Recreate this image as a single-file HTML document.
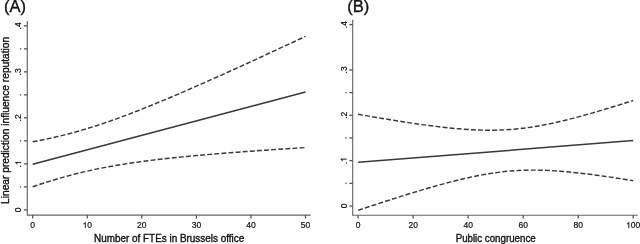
<!DOCTYPE html><html><head><meta charset="utf-8"><style>html,body{margin:0;padding:0;background:#fff;width:640px;height:244px;overflow:hidden}svg{display:block;will-change:transform}text{font-family:"Liberation Sans",sans-serif;fill:#111;stroke:#111;stroke-width:0.35px}.l{stroke-width:0.2px}.d{stroke:none;fill:#555}</style></head><body>
<svg width="640" height="244" viewBox="0 0 640 244">
<rect width="640" height="244" fill="#fff"/>
<text x="4.1" y="12" font-size="16.5">(A)</text>
<path d="M27.3 21.0V215.1H310.7" fill="none" stroke="#666" stroke-width="1.15"/>
<path d="M23.900000000000002 209.85H27.3" stroke="#555" stroke-width="1.3"/>
<g transform="translate(21.10 209.85) rotate(-90)"><text x="-2.364" y="0" font-size="8.5" class="l">0</text></g>
<path d="M23.900000000000002 186.85H27.3" stroke="#555" stroke-width="1.3"/>
<circle cx="20.55" cy="186.85" r="0.85" fill="#6a6a6a"/>
<path d="M23.900000000000002 163.85H27.3" stroke="#555" stroke-width="1.3"/>
<g transform="translate(21.10 163.85) rotate(-90)"><text x="-3.544" y="0" font-size="8.5" class="l">.</text><path transform="translate(-1.183 0) scale(0.004150 -0.004150)" d="M756 0L578 0L578 1100C535 1060 478 1018 407 975C336 932 272 900 215 878L215 1048C313 1094 398 1150 471 1216C544 1282 596 1346 627 1409L756 1409Z" fill="#111" stroke="#111" stroke-width="0.2" vector-effect="non-scaling-stroke"/></g>
<path d="M23.900000000000002 140.85H27.3" stroke="#555" stroke-width="1.3"/>
<circle cx="20.55" cy="140.85" r="0.85" fill="#6a6a6a"/>
<path d="M23.900000000000002 117.85H27.3" stroke="#555" stroke-width="1.3"/>
<g transform="translate(21.10 117.85) rotate(-90)"><text x="-3.544" y="0" font-size="8.5" class="l">.2</text></g>
<path d="M23.900000000000002 94.85H27.3" stroke="#555" stroke-width="1.3"/>
<circle cx="20.55" cy="94.85" r="0.85" fill="#6a6a6a"/>
<path d="M23.900000000000002 71.85H27.3" stroke="#555" stroke-width="1.3"/>
<g transform="translate(21.10 71.85) rotate(-90)"><text x="-3.544" y="0" font-size="8.5" class="l">.3</text></g>
<path d="M23.900000000000002 48.85H27.3" stroke="#555" stroke-width="1.3"/>
<circle cx="20.55" cy="48.85" r="0.85" fill="#6a6a6a"/>
<path d="M23.900000000000002 25.85H27.3" stroke="#555" stroke-width="1.3"/>
<g transform="translate(21.10 25.85) rotate(-90)"><text x="-3.544" y="0" font-size="8.5" class="l">.4</text></g>
<path d="M32.70 215.1V218.5" stroke="#555" stroke-width="1.3"/>
<g transform="translate(32.70 228)"><text x="-2.364" y="0" font-size="8.5" class="l">0</text></g>
<path d="M87.26 215.1V218.5" stroke="#555" stroke-width="1.3"/>
<g transform="translate(87.26 228)"><path transform="translate(-4.727 0) scale(0.004150 -0.004150)" d="M756 0L578 0L578 1100C535 1060 478 1018 407 975C336 932 272 900 215 878L215 1048C313 1094 398 1150 471 1216C544 1282 596 1346 627 1409L756 1409Z" fill="#111" stroke="#111" stroke-width="0.2" vector-effect="non-scaling-stroke"/><text x="0.000" y="0" font-size="8.5" class="l">0</text></g>
<path d="M141.82 215.1V218.5" stroke="#555" stroke-width="1.3"/>
<g transform="translate(141.82 228)"><text x="-4.727" y="0" font-size="8.5" class="l">20</text></g>
<path d="M196.38 215.1V218.5" stroke="#555" stroke-width="1.3"/>
<g transform="translate(196.38 228)"><text x="-4.727" y="0" font-size="8.5" class="l">30</text></g>
<path d="M250.94 215.1V218.5" stroke="#555" stroke-width="1.3"/>
<g transform="translate(250.94 228)"><text x="-4.727" y="0" font-size="8.5" class="l">40</text></g>
<path d="M305.50 215.1V218.5" stroke="#555" stroke-width="1.3"/>
<g transform="translate(305.50 228)"><text x="-4.727" y="0" font-size="8.5" class="l">50</text></g>
<text transform="translate(169.10 241.8) scale(0.992 1)" text-anchor="middle" font-size="10">Number of FTEs in Brussels office</text>
<polyline points="32.70,164.29 305.50,91.97" fill="none" stroke="#383838" stroke-width="1.45"/>
<polyline points="32.70,141.80 37.25,140.93 41.79,140.03 46.34,139.09 50.89,138.10 55.43,137.07 59.98,135.99 64.53,134.86 69.07,133.69 73.62,132.47 78.17,131.21 82.71,129.90 87.26,128.54 91.81,127.13 96.35,125.69 100.90,124.20 105.45,122.67 109.99,121.10 114.54,119.49 119.09,117.85 123.63,116.17 128.18,114.47 132.73,112.73 137.27,110.97 141.82,109.18 146.37,107.37 150.91,105.53 155.46,103.67 160.01,101.79 164.55,99.90 169.10,97.99 173.65,96.06 178.19,94.12 182.74,92.16 187.29,90.19 191.83,88.21 196.38,86.21 200.93,84.21 205.47,82.20 210.02,80.18 214.57,78.15 219.11,76.11 223.66,74.06 228.21,72.01 232.75,69.95 237.30,67.88 241.85,65.81 246.39,63.73 250.94,61.65 255.49,59.56 260.03,57.47 264.58,55.38 269.13,53.28 273.67,51.17 278.22,49.07 282.77,46.96 287.31,44.84 291.86,42.72 296.41,40.60 300.95,38.48 305.50,36.36" fill="none" stroke="#383838" stroke-width="1.45" stroke-dasharray="4.9 2.22"/>
<polyline points="32.70,186.79 37.25,185.24 41.79,183.73 46.34,182.27 50.89,180.84 55.43,179.47 59.98,178.13 64.53,176.85 69.07,175.61 73.62,174.42 78.17,173.27 82.71,172.17 87.26,171.12 91.81,170.11 96.35,169.15 100.90,168.23 105.45,167.35 109.99,166.51 114.54,165.70 119.09,164.93 123.63,164.20 128.18,163.49 132.73,162.82 137.27,162.17 141.82,161.55 146.37,160.95 150.91,160.38 155.46,159.82 160.01,159.29 164.55,158.77 169.10,158.27 173.65,157.79 178.19,157.32 182.74,156.87 187.29,156.43 191.83,156.00 196.38,155.58 200.93,155.17 205.47,154.78 210.02,154.39 214.57,154.01 219.11,153.64 223.66,153.27 228.21,152.91 232.75,152.56 237.30,152.22 241.85,151.88 246.39,151.54 250.94,151.21 255.49,150.89 260.03,150.57 264.58,150.26 269.13,149.95 273.67,149.64 278.22,149.33 282.77,149.03 287.31,148.74 291.86,148.44 296.41,148.15 300.95,147.87 305.50,147.58" fill="none" stroke="#383838" stroke-width="1.45" stroke-dasharray="4.9 2.22"/>
<text x="347.3" y="12" font-size="16.5">(B)</text>
<path d="M352.7 19.7V215.2H637.8" fill="none" stroke="#666" stroke-width="1.15"/>
<path d="M349.3 206.00H352.7" stroke="#555" stroke-width="1.3"/>
<g transform="translate(346.50 206.00) rotate(-90)"><text x="-2.364" y="0" font-size="8.5" class="l">0</text></g>
<path d="M349.3 183.32H352.7" stroke="#555" stroke-width="1.3"/>
<circle cx="345.95" cy="183.32" r="0.85" fill="#6a6a6a"/>
<path d="M349.3 160.65H352.7" stroke="#555" stroke-width="1.3"/>
<g transform="translate(346.50 160.65) rotate(-90)"><text x="-3.544" y="0" font-size="8.5" class="l">.</text><path transform="translate(-1.183 0) scale(0.004150 -0.004150)" d="M756 0L578 0L578 1100C535 1060 478 1018 407 975C336 932 272 900 215 878L215 1048C313 1094 398 1150 471 1216C544 1282 596 1346 627 1409L756 1409Z" fill="#111" stroke="#111" stroke-width="0.2" vector-effect="non-scaling-stroke"/></g>
<path d="M349.3 137.97H352.7" stroke="#555" stroke-width="1.3"/>
<circle cx="345.95" cy="137.97" r="0.85" fill="#6a6a6a"/>
<path d="M349.3 115.30H352.7" stroke="#555" stroke-width="1.3"/>
<g transform="translate(346.50 115.30) rotate(-90)"><text x="-3.544" y="0" font-size="8.5" class="l">.2</text></g>
<path d="M349.3 92.62H352.7" stroke="#555" stroke-width="1.3"/>
<circle cx="345.95" cy="92.62" r="0.85" fill="#6a6a6a"/>
<path d="M349.3 69.95H352.7" stroke="#555" stroke-width="1.3"/>
<g transform="translate(346.50 69.95) rotate(-90)"><text x="-3.544" y="0" font-size="8.5" class="l">.3</text></g>
<path d="M349.3 24.60H352.7" stroke="#555" stroke-width="1.3"/>
<g transform="translate(346.50 24.60) rotate(-90)"><text x="-3.544" y="0" font-size="8.5" class="l">.4</text></g>
<path d="M358.10 215.2V218.6" stroke="#555" stroke-width="1.3"/>
<g transform="translate(358.10 228)"><text x="-2.364" y="0" font-size="8.5" class="l">0</text></g>
<path d="M413.12 215.2V218.6" stroke="#555" stroke-width="1.3"/>
<g transform="translate(413.12 228)"><text x="-4.727" y="0" font-size="8.5" class="l">20</text></g>
<path d="M468.14 215.2V218.6" stroke="#555" stroke-width="1.3"/>
<g transform="translate(468.14 228)"><text x="-4.727" y="0" font-size="8.5" class="l">40</text></g>
<path d="M523.16 215.2V218.6" stroke="#555" stroke-width="1.3"/>
<g transform="translate(523.16 228)"><text x="-4.727" y="0" font-size="8.5" class="l">60</text></g>
<path d="M578.18 215.2V218.6" stroke="#555" stroke-width="1.3"/>
<g transform="translate(578.18 228)"><text x="-4.727" y="0" font-size="8.5" class="l">80</text></g>
<path d="M633.20 215.2V218.6" stroke="#555" stroke-width="1.3"/>
<g transform="translate(633.20 228)"><path transform="translate(-7.091 0) scale(0.004150 -0.004150)" d="M756 0L578 0L578 1100C535 1060 478 1018 407 975C336 932 272 900 215 878L215 1048C313 1094 398 1150 471 1216C544 1282 596 1346 627 1409L756 1409Z" fill="#111" stroke="#111" stroke-width="0.2" vector-effect="non-scaling-stroke"/><text x="-2.364" y="0" font-size="8.5" class="l">00</text></g>
<text transform="translate(495.65 241.8) scale(0.973 1)" text-anchor="middle" font-size="10">Public congruence</text>
<polyline points="358.10,162.31 633.20,140.57" fill="none" stroke="#383838" stroke-width="1.45"/>
<polyline points="358.10,114.30 362.69,115.10 367.27,115.89 371.86,116.67 376.44,117.45 381.03,118.22 385.61,118.98 390.20,119.73 394.78,120.47 399.37,121.19 403.95,121.91 408.54,122.60 413.12,123.28 417.71,123.95 422.29,124.60 426.88,125.22 431.46,125.82 436.05,126.40 440.63,126.95 445.22,127.47 449.80,127.96 454.38,128.41 458.97,128.82 463.56,129.19 468.14,129.51 472.73,129.77 477.31,129.99 481.90,130.14 486.48,130.23 491.07,130.25 495.65,130.20 500.24,130.07 504.82,129.87 509.41,129.58 513.99,129.22 518.58,128.78 523.16,128.25 527.75,127.65 532.33,126.97 536.91,126.23 541.50,125.41 546.09,124.53 550.67,123.59 555.26,122.59 559.84,121.55 564.42,120.45 569.01,119.31 573.60,118.14 578.18,116.92 582.77,115.68 587.35,114.40 591.94,113.10 596.52,111.77 601.11,110.42 605.69,109.05 610.28,107.66 614.86,106.25 619.45,104.83 624.03,103.39 628.62,101.94 633.20,100.48" fill="none" stroke="#383838" stroke-width="1.45" stroke-dasharray="4.9 2.22"/>
<polyline points="358.10,210.33 362.69,208.80 367.27,207.29 371.86,205.77 376.44,204.27 381.03,202.78 385.61,201.29 390.20,199.82 394.78,198.36 399.37,196.91 403.95,195.47 408.54,194.05 413.12,192.64 417.71,191.25 422.29,189.88 426.88,188.53 431.46,187.20 436.05,185.90 440.63,184.63 445.22,183.38 449.80,182.17 454.38,181.00 458.97,179.86 463.56,178.77 468.14,177.72 472.73,176.73 477.31,175.79 481.90,174.91 486.48,174.10 491.07,173.35 495.65,172.68 500.24,172.08 504.82,171.56 509.41,171.12 513.99,170.76 518.58,170.48 523.16,170.28 527.75,170.16 532.33,170.11 536.91,170.13 541.50,170.22 546.09,170.38 550.67,170.59 555.26,170.86 559.84,171.19 564.42,171.56 569.01,171.97 573.60,172.42 578.18,172.91 582.77,173.43 587.35,173.98 591.94,174.56 596.52,175.16 601.11,175.79 605.69,176.43 610.28,177.10 614.86,177.78 619.45,178.48 624.03,179.19 628.62,179.92 633.20,180.66" fill="none" stroke="#383838" stroke-width="1.45" stroke-dasharray="4.9 2.22"/>
<text transform="translate(8.6 120.4) rotate(-90)" text-anchor="middle" font-size="10.2">Linear prediction influence reputation</text>
</svg></body></html>
